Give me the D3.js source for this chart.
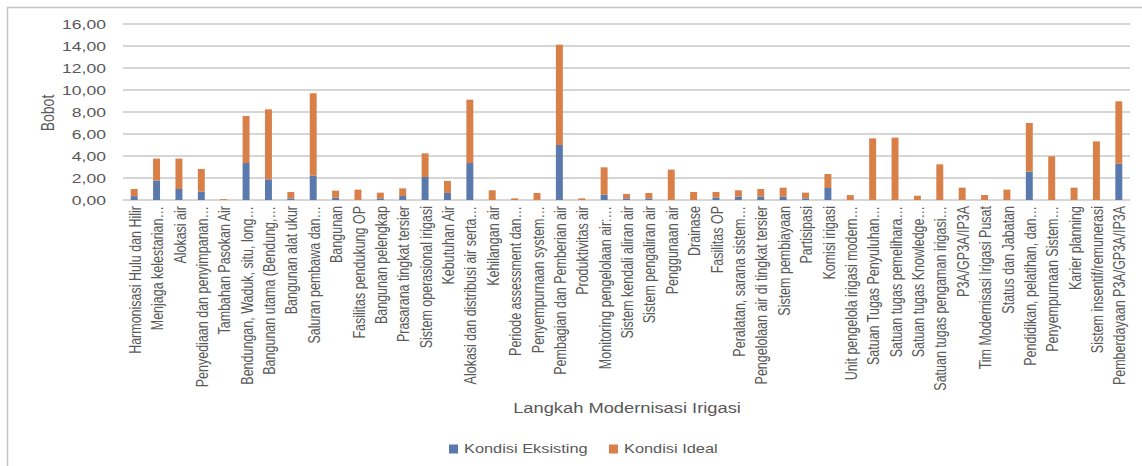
<!DOCTYPE html>
<html>
<head>
<meta charset="utf-8">
<script src="https://cdn.jsdelivr.net/npm/d3@7"></script>
<style>
  html, body { margin: 0; padding: 0; background: #fff; }
  svg { display: block; }
  text { font-family: "Liberation Sans", Arial, sans-serif; fill: #595959; }
</style>
</head>
<body>
<svg id="chart" width="1142" height="466"></svg>
<script>
const categories = [
  'Harmonisasi Hulu dan Hilir', 'Menjaga kelestarian…', 'Alokasi air',
  'Penyediaan dan penyimpanan…', 'Tambahan Pasokan Air', 'Bendungan, Waduk, situ, long…',
  'Bangunan utama (Bendung,…', 'Bangunan alat ukur', 'Saluran pembawa dan…',
  'Bangunan', 'Fasilitas pendukung OP', 'Bangunan pelengkap',
  'Prasarana tingkat tersier', 'Sistem operasional irigasi', 'Kebutuhan Air',
  'Alokasi dan distribusi air serta…', 'Kehilangan air', 'Periode assessment dan…',
  'Penyempurnaan system…', 'Pembagian dan Pemberian air', 'Produktivitas air',
  'Monitoring pengelolaan air:…', 'Sistem kendali aliran air', 'Sistem pengaliran air',
  'Penggunaan air', 'Drainase', 'Fasilitas OP',
  'Peralatan, sarana sistem…', 'Pengelolaan air di tingkat tersier', 'Sistem pembiayaan',
  'Partisipasi', 'Komisi irigasi', 'Unit pengelola irigasi modern…',
  'Satuan Tugas Penyuluhan…', 'Satuan tugas pemelihara…', 'Satuan tugas Knowledge…',
  'Satuan tugas pengaman irigasi…', 'P3A/GP3A/IP3A', 'Tim Modernisasi Irigasi Pusat',
  'Status dan Jabatan', 'Pendidikan, pelatihan, dan…', 'Penyempurnaan Sistem…',
  'Karier planning', 'Sistem insentif/remunerasi', 'Pemberdayaan P3A/GP3A/IP3A'
];

// Kondisi Eksisting (blue, bottom)
const eksisting = [
  0.35, 1.76, 1.0, 0.76, 0, 3.36, 1.88, 0.15, 2.21,
  0.21, 0, 0.15, 0.36, 2.09, 0.64, 3.36, 0, 0,
  0, 5.0, 0, 0.48, 0.15, 0.15, 0, 0, 0.21,
  0.3, 0.3, 0.3, 0.15, 1.09, 0, 0, 0, 0,
  0, 0, 0, 0, 2.58, 0, 0, 0, 3.3
];

// Kondisi Ideal (orange, stacked on top)
const ideal = [
  0.65, 2.0, 2.76, 2.06, 0.08, 4.28, 6.36, 0.58, 7.49,
  0.64, 0.94, 0.52, 0.7, 2.15, 1.09, 5.76, 0.88, 0.15,
  0.64, 9.12, 0.15, 2.49, 0.4, 0.49, 2.76, 0.73, 0.52,
  0.58, 0.7, 0.82, 0.52, 1.27, 0.45, 5.6, 5.67, 0.39,
  3.24, 1.12, 0.45, 0.94, 4.42, 3.97, 1.12, 5.33, 5.67
];

const seriesNames = ['Kondisi Eksisting', 'Kondisi Ideal'];
const colors = ['#5a79ad', '#d97f48'];
const yTicks = [0, 2, 4, 6, 8, 10, 12, 14, 16];

const svg = d3.select('#chart');
const plot = { left: 123, right: 1130, top: 24, bottom: 200 };
const fmt = (v) => d3.format('.2f')(v).replace('.', ',');

// outer chart frame (left + top edges visible)
svg.append('path')
  .attr('d', 'M7.5,466 V7.5 H1142')
  .attr('fill', 'none')
  .attr('stroke', '#c4c4c4')
  .attr('stroke-width', 1.5);

const x = d3.scaleBand()
  .domain(categories)
  .range([plot.left, plot.right])
  .paddingInner(0.69)
  .paddingOuter(0.345);

const y = d3.scaleLinear()
  .domain([0, 16])
  .range([plot.bottom, plot.top]);

// gridlines
svg.append('g')
  .selectAll('line')
  .data(yTicks)
  .enter()
  .append('line')
  .attr('x1', plot.left)
  .attr('x2', plot.right)
  .attr('y1', (d) => y(d))
  .attr('y2', (d) => y(d))
  .attr('stroke', '#c8c8c8')
  .attr('stroke-width', 1.5);

// y tick labels (source image is stretched horizontally)
svg.append('g')
  .selectAll('text')
  .data(yTicks)
  .enter()
  .append('text')
  .attr('transform', (d) => `translate(106,${y(d)}) scale(1.35,1)`)
  .attr('text-anchor', 'end')
  .attr('dominant-baseline', 'central')
  .style('font-size', '13px')
  .text((d) => fmt(d));

// stacked bars
const rows = categories.map((c, i) => ({ cat: c, eksisting: eksisting[i], ideal: ideal[i] }));
const stack = d3.stack().keys(['eksisting', 'ideal'])(rows);

svg.append('g')
  .selectAll('g')
  .data(stack)
  .enter()
  .append('g')
  .attr('fill', (d, i) => colors[i])
  .selectAll('rect')
  .data((d) => d)
  .enter()
  .append('rect')
  .attr('x', (d) => x(d.data.cat))
  .attr('width', x.bandwidth())
  .attr('y', (d) => y(d[1]))
  .attr('height', (d) => Math.max(0, y(d[0]) - y(d[1])));

// category labels, rotated
svg.append('g')
  .selectAll('text')
  .data(categories)
  .enter()
  .append('text')
  .attr('transform', (d) => `translate(${x(d) + x.bandwidth() / 2 + 1},206) rotate(-90) scale(1,1.3)`)
  .attr('text-anchor', 'end')
  .attr('dominant-baseline', 'central')
  .style('font-size', '12.5px')
  .text((d) => d);

// axis titles
svg.append('text')
  .attr('transform', 'translate(47,113) rotate(-90) scale(1,1.3)')
  .attr('text-anchor', 'middle')
  .attr('dominant-baseline', 'central')
  .style('font-size', '14px')
  .text('Bobot');

svg.append('text')
  .attr('transform', 'translate(627,408) scale(1.22,1)')
  .attr('text-anchor', 'middle')
  .attr('dominant-baseline', 'central')
  .style('font-size', '15px')
  .text('Langkah Modernisasi Irigasi');

// legend
const legendX = [449, 609];
const legend = svg.append('g')
  .selectAll('g')
  .data(seriesNames)
  .enter()
  .append('g')
  .attr('transform', (d, i) => `translate(${legendX[i]},449)`);
legend.append('rect')
  .attr('x', 0)
  .attr('y', -4.5)
  .attr('width', 9)
  .attr('height', 9)
  .attr('fill', (d, i) => colors[i]);
legend.append('text')
  .attr('transform', 'translate(15,0) scale(1.26,1)')
  .attr('dominant-baseline', 'central')
  .style('font-size', '13px')
  .text((d) => d);
</script>
</body>
</html>
